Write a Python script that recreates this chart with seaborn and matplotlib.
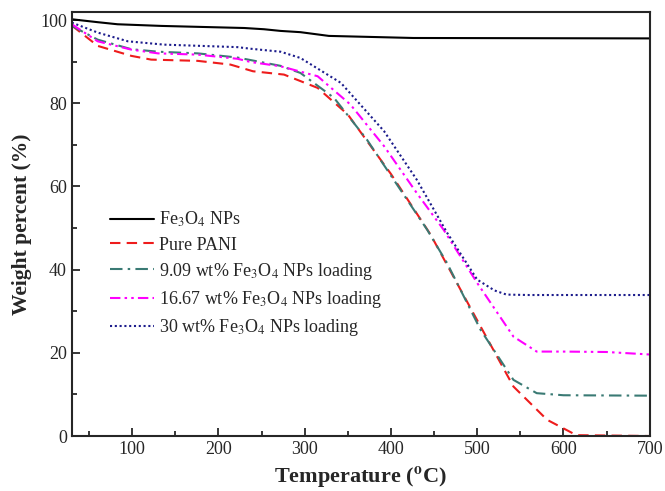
import matplotlib
matplotlib.use("Agg")
import matplotlib.pyplot as plt
from matplotlib.ticker import MultipleLocator
import seaborn as sns
import pandas as pd

sns.set_style("ticks")
plt.rcParams['font.family'] = ['Liberation Serif', 'DejaVu Serif']
plt.rcParams['mathtext.fontset'] = 'stix'

# ---- data ----
t_fe = [30, 60, 83, 134, 230, 253, 272, 295, 328, 426, 700]
w_fe = [100.2, 99.5, 99.0, 98.6, 98.1, 97.8, 97.4, 97.1, 96.2, 95.7, 95.6]

t_pani = [30, 60, 99, 122, 176, 214, 240, 276, 315, 350, 400, 446, 504, 542, 581, 615, 700]
w_pani = [98.7, 93.8, 91.4, 90.5, 90.2, 89.3, 87.7, 86.9, 83.7, 77.3, 63.0, 48.4, 26.3, 11.9, 3.9, 0.2, 0.0]

t_909 = [30, 60, 99, 130, 176, 222, 272, 295, 334, 372, 411, 442, 465, 504, 542, 569, 600, 700]
w_909 = [98.6, 95.3, 93.0, 92.4, 92.0, 91.0, 89.0, 87.3, 81.3, 71.3, 59.2, 49.6, 41.6, 25.5, 13.5, 10.3, 9.8, 9.7]

t_1667 = [30, 60, 99, 130, 176, 222, 238, 272, 315, 353, 392, 430, 461, 500, 542, 569, 600, 650, 700]
w_1667 = [99.0, 94.9, 92.9, 92.0, 91.7, 90.7, 89.9, 88.9, 86.5, 79.7, 69.7, 58.4, 49.6, 36.8, 23.9, 20.3, 20.3, 20.2, 19.6]

t_30 = [30, 60, 95, 137, 222, 238, 272, 295, 342, 392, 430, 465, 500, 520, 534, 560, 700]
w_30 = [99.4, 97.0, 94.9, 94.1, 93.5, 93.1, 92.4, 90.9, 84.9, 73.3, 61.6, 48.9, 37.6, 35.0, 34.0, 33.9, 33.9]

labels = [r'Fe$_3$O$_4$ NPs', 'Pure PANI',
          r'9.09 wt% Fe$_3$O$_4$ NPs loading',
          r'16.67 wt% Fe$_3$O$_4$ NPs loading',
          r'30 wt% Fe$_3$O$_4$ NPs loading']

series = [(t_fe, w_fe), (t_pani, w_pani), (t_909, w_909), (t_1667, w_1667), (t_30, w_30)]
colors = ['black', '#ee1c1c', '#3a7a74', '#ff00ff', '#1c1c8c']
styles = ['-', (0, (5, 3)), (0, (6, 2.5, 1.2, 2.5)), (0, (5, 2, 1.2, 2, 1.2, 2)), (0, (1, 1.3))]

fig = plt.figure(figsize=(6.65, 4.91), dpi=100)
ax = fig.add_axes([0.108, 0.112, 0.869, 0.864])

for (t, w), lab, c, ls in zip(series, labels, colors, styles):
    df = pd.DataFrame({'T': t, 'W': w})
    sns.lineplot(data=df, x='T', y='W', ax=ax, color=c, linestyle=ls,
                 linewidth=1.5, label=lab, estimator=None, sort=False)

ax.set_xlim(30, 700)
ax.set_ylim(0, 102)
ax.xaxis.set_major_locator(MultipleLocator(100))
ax.xaxis.set_minor_locator(MultipleLocator(50))
ax.yaxis.set_major_locator(MultipleLocator(20))
ax.yaxis.set_minor_locator(MultipleLocator(10))
ax.tick_params(which='both', direction='in', top=False, right=False, labelsize=13, width=1.3)
ax.tick_params(which='major', length=6)
ax.tick_params(which='minor', length=3.5)
for s in ax.spines.values():
    s.set_linewidth(1.5)
    s.set_visible(True)

ax.set_xlabel(r'Temperature ($\mathbf{^{o}}$C)', fontsize=16, fontweight='bold', labelpad=5)
ax.set_ylabel('Weight percent (%)', fontsize=15.5, fontweight='bold', labelpad=6)

leg = ax.legend(loc='upper left', bbox_to_anchor=(0.054, 0.55), frameon=False,
                fontsize=13, handlelength=2.4, handletextpad=0.3, labelspacing=0.4,
                borderaxespad=0)

fig.savefig('out.png', dpi=100)
